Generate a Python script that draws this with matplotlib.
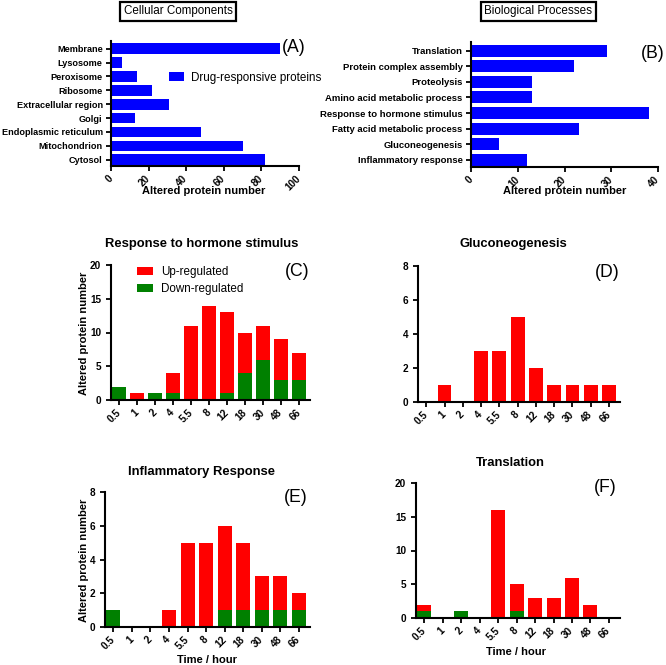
import numpy as np
import matplotlib
matplotlib.use('Agg')
import matplotlib.pyplot as plt

plt.rcParams['font.family'] = ['Liberation Sans', 'DejaVu Sans']

# data
cc_cats = ['Membrane', 'Lysosome', 'Peroxisome', 'Ribosome', 'Extracellular region',
           'Golgi', 'Endoplasmic reticulum', 'Mitochondrion', 'Cytosol']
cc_vals = [90, 6, 14, 22, 31, 13, 48, 70, 82]

bp_cats = ['Translation', 'Protein complex assembly', 'Proteolysis', 'Amino acid metabolic process',
           'Response to hormone stimulus', 'Fatty acid metabolic process', 'Gluconeogenesis',
           'Inflammatory response']
bp_vals = [29, 22, 13, 13, 38, 23, 6, 12]

times = ['0.5', '1', '2', '4', '5.5', '8', '12', '18', '30', '48', '66']
hormone_up = [0, 1, 0, 3, 11, 14, 12, 6, 5, 6, 4]
hormone_down = [2, 0, 1, 1, 0, 0, 1, 4, 6, 3, 3]
gluco_up = [0, 1, 0, 3, 3, 5, 2, 1, 1, 1, 1]
gluco_down = [0, 0, 0, 0, 0, 0, 0, 0, 0, 0, 0]
inflam_up = [0, 0, 0, 1, 5, 5, 5, 4, 2, 2, 1]
inflam_down = [1, 0, 0, 0, 0, 0, 1, 1, 1, 1, 1]
transl_up = [1, 0, 0, 0, 16, 4, 3, 3, 6, 2, 0]
transl_down = [1, 0, 1, 0, 0, 1, 0, 0, 0, 0, 0]

W, H = 666, 665
fig = plt.figure(figsize=(W / 100, H / 100), dpi=100)

BLUE = '#0000ff'
RED = '#ff0000'
GREEN = '#008000'
TICKFS = 7.2


def px_axes(x0, y0, x1, y1):
    return fig.add_axes([x0 / W, 1 - y1 / H, (x1 - x0) / W, (y1 - y0) / H])


def ftext(x, y, s, **kw):
    fig.text(x / W, 1 - y / H, s, **kw)


def style(ax):
    for s in ['top', 'right']:
        ax.spines[s].set_visible(False)
    for s in ['left', 'bottom']:
        ax.spines[s].set_linewidth(1.5)
    ax.tick_params(width=1.3, length=3.5, labelsize=TICKFS)
    ax.tick_params(axis='x', pad=4.5)
    for lab in ax.get_xticklabels() + ax.get_yticklabels():
        lab.set_fontweight('bold')
    for lab in ax.get_xticklabels():
        lab.set_rotation(45)
        lab.set_ha('right')
        lab.set_va('center')
        lab.set_rotation_mode('anchor')


def hbar(ax, cats, vals, xmax, step, fs):
    y = np.arange(len(cats))
    ax.barh(y, vals, height=0.77, color=BLUE, label='Drug-responsive proteins')
    ax.set_yticks(y)
    ax.set_yticklabels(cats)
    ax.set_ylim(len(cats) - 0.55, -0.55)
    ax.set_xlim(0, xmax)
    ax.set_xticks(np.arange(0, xmax + 1, step))
    style(ax)
    ax.tick_params(axis='y', labelsize=fs, pad=2.5)


def stacked(ax, up, down, ymax, step):
    x = np.arange(len(times))
    ax.bar(x, down, width=0.76, color=GREEN, label='Down-regulated')
    ax.bar(x, up, width=0.76, bottom=down, color=RED, label='Up-regulated')
    ax.set_xticks(x)
    ax.set_xticklabels(times)
    ax.set_xlim(-0.45, len(times) - 0.4)
    ax.set_ylim(0, ymax)
    ax.set_yticks(np.arange(0, ymax + 1, step))
    style(ax)


# (A)
axA = px_axes(111, 41, 299, 166)
hbar(axA, cc_cats, cc_vals, 100, 20, 6.6)
axA.legend(loc='center left', bbox_to_anchor=(0.308, 0.708), frameon=False,
           fontsize=8.4, borderpad=0, borderaxespad=0, handlelength=1.3, handletextpad=0.6)
ftext(178, 11, 'Cellular Components', fontsize=8.4, ha='center', va='center',
      bbox=dict(boxstyle='square,pad=0.3', fc='white', ec='black', lw=1.6))
ftext(204, 191, 'Altered protein number', fontsize=8, fontweight='bold', ha='center', va='center')
ftext(306, 47, '(A)', fontsize=12.7, ha='right', va='center')

# (B)
axB = px_axes(471, 42, 658, 167)
hbar(axB, bp_cats, bp_vals, 40, 10, 6.8)
ftext(538, 11, 'Biological Processes', fontsize=8.4, ha='center', va='center',
      bbox=dict(boxstyle='square,pad=0.3', fc='white', ec='black', lw=1.6))
ftext(565, 191, 'Altered protein number', fontsize=8, fontweight='bold', ha='center', va='center')
ftext(641, 53, '(B)', fontsize=12.7, ha='left', va='center')

# (C)
axC = px_axes(111, 265, 310, 400)
stacked(axC, hormone_up, hormone_down, 20, 5)
h, l = axC.get_legend_handles_labels()
axC.legend(h[::-1], l[::-1], loc='upper left', bbox_to_anchor=(0.13, 0.99), frameon=False,
           fontsize=8.4, borderpad=0, borderaxespad=0, handlelength=1.37,
           handletextpad=0.7, labelspacing=0.37)
ftext(202, 244, 'Response to hormone stimulus', fontsize=9.4, fontweight='bold', ha='center', va='center')
ftext(84, 333, 'Altered protein number', fontsize=8, fontweight='bold', ha='center', va='center', rotation=90)
ftext(309, 271, '(C)', fontsize=12.7, ha='right', va='center')

# (D)
axD = px_axes(418, 266, 620, 402)
stacked(axD, gluco_up, gluco_down, 8, 2)
ftext(513, 244, 'Gluconeogenesis', fontsize=9.4, fontweight='bold', ha='center', va='center')
ftext(620, 272, '(D)', fontsize=12.7, ha='right', va='center')

# (E)
axE = px_axes(105, 492, 310, 627)
stacked(axE, inflam_up, inflam_down, 8, 2)
ftext(202, 472, 'Inflammatory Response', fontsize=9.4, fontweight='bold', ha='center', va='center')
ftext(84, 560, 'Altered protein number', fontsize=8, fontweight='bold', ha='center', va='center', rotation=90)
ftext(207, 660, 'Time / hour', fontsize=8, fontweight='bold', ha='center', va='center')
ftext(308, 497, '(E)', fontsize=12.7, ha='right', va='center')

# (F)
axF = px_axes(416, 483, 620, 618)
stacked(axF, transl_up, transl_down, 20, 5)
ftext(510, 463, 'Translation', fontsize=9.4, fontweight='bold', ha='center', va='center')
ftext(516, 652, 'Time / hour', fontsize=8, fontweight='bold', ha='center', va='center')
ftext(617, 488, '(F)', fontsize=12.7, ha='right', va='center')

fig.savefig('out.png', dpi=100)
